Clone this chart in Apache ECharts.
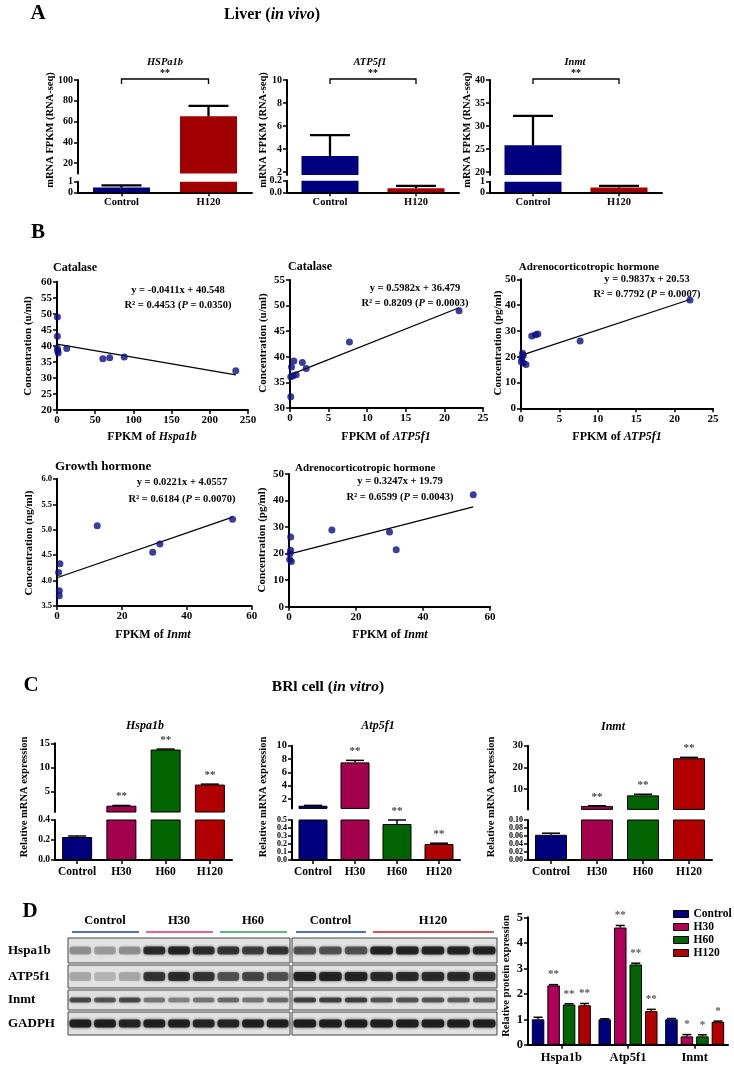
<!DOCTYPE html>
<html>
<head>
<meta charset="utf-8">
<script src="https://cdn.jsdelivr.net/npm/echarts@6.0.0/dist/echarts.min.js"></script>
<style>html,body{margin:0;padding:0;background:#fff;}#chart{width:734px;height:1068px;}</style>
</head>
<body>
<div id="chart"></div>
<script>
// ================= DATA =================
// Panel A : liver RNA-seq (mean, error)
const aCategories = ['Control', 'H120'];
const aHspa1bMean = [0.45, 65];
const aHspa1bErr = [0.2, 10];
const aAtp5f1Mean = [3.4, 0.07];
const aAtp5f1Err = [1.8, 0.04];
const aInmtMean = [25.8, 0.45];
const aInmtErr = [6.4, 0.15];
const aHspa1bUpperTicks = [20, 40, 60, 80, 100];
const aHspa1bLowerTicks = [0, 1];
const aAtp5f1UpperTicks = [2, 4, 6, 8, 10];
const aAtp5f1LowerTicks = [0, 0.2];
const aInmtUpperTicks = [20, 25, 30, 35, 40];
const aInmtLowerTicks = [0, 1];

// Panel B : correlations [FPKM, concentration]
const b1Points = [[0.5,49],[0.5,43],[0.5,39.2],[1,38.5],[1.5,37.8],[12.7,39.2],[60,36],[69,36.3],[88,36.5],[234,32.2]];
const b1Fit = [[0,40.55],[234,30.93]];
const b1Eq = ['y = -0.0411x + 40.548', 'R² = 0.4453 (P = 0.0350)'];
const b2Points = [[0.1,32.2],[0.1,36.1],[0.4,36.3],[0.2,38],[0.5,39.2],[0.8,36.5],[1.6,38.9],[2.1,37.7],[7.7,42.9],[21.9,49]];
const b2Fit = [[0,36.48],[21.9,49.58]];
const b2Eq = ['y = 0.5982x + 36.479', 'R² = 0.8209 (P = 0.0003)'];
const b3Points = [[22,42],[7.7,26.1],[1.4,28],[1.9,28.5],[2.2,28.8],[0.2,21.3],[0.3,20.5],[0.05,18],[0.3,17.6],[0.65,17],[0.1,19.5]];
const b3Fit = [[0,20.53],[22,42.17]];
const b3Eq = ['y = 0.9837x + 20.53', 'R² = 0.7792 (P = 0.0007)'];
const b4Points = [[0.9,4.33],[0.5,4.16],[0.7,3.8],[0.7,3.7],[12.4,5.08],[29.5,4.56],[31.7,4.72],[54.1,5.21]];
const b4Fit = [[0,4.056],[54.1,5.25]];
const b4Eq = ['y = 0.0221x + 4.0557', 'R² = 0.6184 (P = 0.0070)'];
const b5Points = [[55,42.2],[12.8,28.9],[30,28.1],[32,21.5],[0.5,26.3],[0.5,21.3],[0.3,20],[0.2,17.8],[0.7,17]];
const b5Fit = [[0,19.79],[55,37.65]];
const b5Eq = ['y = 0.3247x + 19.79', 'R² = 0.6599 (P = 0.0043)'];

// Panel C : BRL cell qPCR
const cCategories = ['Control', 'H30', 'H60', 'H120'];
const cHspa1bMean = [0.23, 2.0, 13.7, 6.4];
const cHspa1bErr = [0.01, 0.05, 0.1, 0.1];
const cAtp5f1Mean = [1.0, 7.5, 0.45, 0.2];
const cAtp5f1Err = [0.05, 0.3, 0.05, 0.01];
const cInmtMean = [0.063, 2.1, 7.0, 24.2];
const cInmtErr = [0.004, 0.1, 0.5, 0.4];
const cStars = ['', '**', '**', '**'];
const cHspa1bUpperTicks = [5, 10, 15];
const cHspa1bLowerTicks = [0, 0.2, 0.4];
const cAtp5f1UpperTicks = [2, 4, 6, 8, 10];
const cAtp5f1LowerTicks = [0, 0.1, 0.2, 0.3, 0.4, 0.5];
const cInmtUpperTicks = [10, 20, 30];
const cInmtLowerTicks = [0, 0.02, 0.04, 0.06, 0.08, 0.1];

// Panel D : protein expression
const dCategories = ['Hspa1b', 'Atp5f1', 'Inmt'];
const dGroups = ['Control', 'H30', 'H60', 'H120'];
const dControl = [1.0, 1.0, 1.0];
const dControlErr = [0.08, 0.02, 0.03];
const dH30 = [2.33, 4.6, 0.33];
const dH30Err = [0.03, 0.08, 0.07];
const dH60 = [1.58, 3.15, 0.33];
const dH60Err = [0.03, 0.05, 0.06];
const dH120 = [1.55, 1.32, 0.9];
const dH120Err = [0.07, 0.07, 0.03];
const dControlStars = ['', '', ''];
const dH30Stars = ['**', '**', '*'];
const dH60Stars = ['**', '**', '*'];
const dH120Stars = ['**', '**', '*'];

// Western blot band darkness (0..1), per lane
const blotRowNames = ['Hspa1b', 'ATP5f1', 'Inmt', 'GADPH'];
const blotLeftHspa1b = [0.35,0.3,0.35,0.8,0.85,0.8,0.75,0.7,0.75];
const blotLeftAtp5f1 = [0.25,0.2,0.25,0.75,0.8,0.75,0.6,0.65,0.6];
const blotLeftInmt = [0.65,0.6,0.65,0.45,0.4,0.45,0.5,0.45,0.5];
const blotLeftGadph = [0.9,0.9,0.85,0.9,0.9,0.85,0.85,0.9,0.9];
const blotRightHspa1b = [0.6,0.6,0.6,0.85,0.85,0.85,0.85,0.85];
const blotRightAtp5f1 = [0.85,0.85,0.85,0.8,0.8,0.8,0.8,0.8];
const blotRightInmt = [0.7,0.7,0.7,0.6,0.6,0.6,0.55,0.55];
const blotRightGadph = [0.9,0.9,0.9,0.9,0.9,0.9,0.9,0.9];
const blotLeftGroups = ['Control', 'H30', 'H60'];
const blotRightGroups = ['Control', 'H120'];

// ================= BUILD =================
const FONT = 'Liberation Serif';
const NAVY = '#00007f';
const grids = [], xAxes = [], yAxes = [], series = [], graphics = [];

function T(x, y, text, o) {
  o = o || {};
  const st = {
    text: text, fill: o.color || '#000', fontFamily: FONT, fontWeight: 'bold',
    fontSize: o.fs || 11, fontStyle: o.it ? 'italic' : 'normal',
    align: o.align || 'center', verticalAlign: 'middle'
  };
  if (o.rich) st.rich = o.rich;
  graphics.push({ type: 'text', x: x, y: y, rotation: o.rot || 0, silent: true, z: 100, style: st });
}
function richFor(fs) {
  return {
    n: { fontFamily: FONT, fontWeight: 'bold', fontSize: fs, fill: '#000' },
    i: { fontFamily: FONT, fontWeight: 'bold', fontStyle: 'italic', fontSize: fs, fill: '#000' }
  };
}

function makeErr(capW, lw, stars, gap, fs, scol, off) {
  return function (params, api) {
    const idx = api.value(3);
    const v = api.value(1), e = api.value(2);
    const cs = params.coordSys;
    const pb = api.coord([api.value(0), v]);
    const pt = api.coord([api.value(0), v + e]);
    const x = pb[0] + (off || 0);
    if (pt[1] < cs.y - 0.6 || pt[1] > cs.y + cs.height + 0.6) return null;
    const yb = Math.min(pb[1], cs.y + cs.height);
    const ch = [
      { type: 'line', shape: { x1: x, y1: yb, x2: x, y2: pt[1] }, style: { stroke: '#000', lineWidth: lw } },
      { type: 'line', shape: { x1: x - capW / 2, y1: pt[1], x2: x + capW / 2, y2: pt[1] }, style: { stroke: '#000', lineWidth: lw } }
    ];
    const s = stars && stars[idx];
    if (s) ch.push({ type: 'text', x: x, y: pt[1] - gap, style: { text: s, fill: scol, fontFamily: FONT, fontWeight: 'bold', fontSize: fs, align: 'center', verticalAlign: 'middle' } });
    return { type: 'group', children: ch };
  };
}

function broken(c) {
  [c.up, c.lo].forEach(function (s, k) {
    const gi = grids.length;
    const isLow = k === 1;
    grids.push({ left: c.x0, top: s.top, width: c.x1 - c.x0, height: s.bot - s.top });
    xAxes.push({
      gridIndex: gi, type: 'category', data: c.cats, boundaryGap: true, show: isLow,
      axisLine: { show: true, onZero: false, lineStyle: { color: '#000', width: c.axw } },
      axisTick: { show: true, alignWithLabel: true, length: 4, lineStyle: { color: '#000', width: 1.5 } },
      axisLabel: { interval: 0, color: '#000', fontFamily: FONT, fontWeight: 'bold', fontSize: c.xfs, margin: c.xm }
    });
    const fs = s.fs || c.yfs;
    yAxes.push({
      gridIndex: gi, type: 'value', min: s.min, max: s.max, splitLine: { show: false },
      axisLine: { show: true, onZero: false, lineStyle: { color: '#000', width: c.axw } },
      axisTick: { show: true, length: 4, customValues: s.ticks, lineStyle: { color: '#000', width: 1.5 } },
      axisLabel: { customValues: s.ticks, showMinLabel: true, showMaxLabel: true, hideOverlap: false,
        lineHeight: s.lh || Math.round(fs * 1.2),
        formatter: function (v) { return Number(v).toFixed(s.dec); }, color: '#000', fontFamily: FONT, fontWeight: 'bold', fontSize: fs, margin: 5 }
    });
    series.push({
      type: 'bar', xAxisIndex: gi, yAxisIndex: gi, barWidth: c.bw, clip: true, silent: true,
      data: c.vals.map(function (v, i) { return { value: v, itemStyle: { color: c.colors[i] } }; }),
      itemStyle: { borderColor: '#000', borderWidth: c.bbw }
    });
    series.push({
      type: 'custom', xAxisIndex: gi, yAxisIndex: gi, silent: true, z: 5,
      data: c.vals.map(function (v, i) { return [i, v, c.errs[i], i]; }),
      renderItem: makeErr(c.capW, c.elw, c.stars, c.starGap, c.starFs, c.starColor, 0)
    });
    if (!isLow && c.bracket) {
      series.push({
        type: 'custom', xAxisIndex: gi, yAxisIndex: gi, silent: true, z: 5, data: [[0, 1]],
        renderItem: function (params, api) {
          const cs = params.coordSys;
          const x0 = api.coord([0, s.max])[0], x1 = api.coord([1, s.max])[0];
          const y = cs.y - 1;
          return { type: 'group', children: [
            { type: 'polyline', shape: { points: [[x0, y + 5], [x0, y], [x1, y], [x1, y + 5]] }, style: { stroke: '#000', lineWidth: 1.3, fill: null } },
            { type: 'text', x: (x0 + x1) / 2, y: y - 6, style: { text: '**', fill: '#000', fontFamily: FONT, fontWeight: 'bold', fontSize: 10, align: 'center', verticalAlign: 'middle' } }
          ] };
        }
      });
    }
  });
}

function scatterPanel(c) {
  const gi = grids.length;
  grids.push({ left: c.x0, top: c.y0, width: c.x1 - c.x0, height: c.y1 - c.y0 });
  const lab = { color: '#000', fontFamily: FONT, fontWeight: 'bold', fontSize: 11, margin: 5 };
  xAxes.push({
    gridIndex: gi, type: 'value', min: c.xr[0], max: c.xr[1], interval: c.xr[2], splitLine: { show: false },
    axisLine: { show: true, onZero: false, lineStyle: { color: '#000', width: 2 } },
    axisTick: { show: true, length: 4, lineStyle: { color: '#000', width: 1.5 } },
    axisLabel: lab
  });
  yAxes.push({
    gridIndex: gi, type: 'value', min: c.yr[0], max: c.yr[1], interval: c.yr[2], splitLine: { show: false },
    axisLine: { show: true, onZero: false, lineStyle: { color: '#000', width: 2 } },
    axisTick: { show: true, length: 4, lineStyle: { color: '#000', width: 1.5 } },
    axisLabel: Object.assign({}, lab, { fontSize: c.yfs || 11, formatter: function (v) { return Number(v).toFixed(c.ydec || 0); } })
  });
  series.push({ type: 'line', xAxisIndex: gi, yAxisIndex: gi, data: c.fit, symbol: 'none', silent: true, z: 2, lineStyle: { color: '#000', width: 1.3 } });
  series.push({ type: 'scatter', xAxisIndex: gi, yAxisIndex: gi, data: c.pts, symbolSize: 7, silent: true, z: 3, itemStyle: { color: '#0c0c82' } });
  T(c.title[1], c.title[2], c.title[0], { fs: c.title[3], align: c.title[4] });
  const eqRich = richFor(10.5);
  T(c.eqx, c.eqy1, b_fmt(c.eq[0]), { fs: 10.5, rich: eqRich });
  T(c.eqx, c.eqy2, b_fmt(c.eq[1]), { fs: 10.5, rich: eqRich });
  T(c.yname[1], c.yname[2], c.yname[0], { fs: 11, rot: Math.PI / 2 });
  T(c.xname[1], c.xname[2], '{n|FPKM of }{i|' + c.xname[0] + '}', { fs: 12, rich: richFor(12) });
}
function b_fmt(s) { return '{n|' + s.replace('P =', '}{i|P}{n| =') + '}'; }

// ---------- Panel A ----------
T(38, 14, 'A', { fs: 21 });
T(272, 15, '{n|Liver (}{i|in vivo}{n|)}', { fs: 16, rich: richFor(16) });
const aCol = [NAVY, '#a00000'];
const aCommon = { cats: aCategories, colors: aCol, bw: 57, capW: 40, elw: 2.3, axw: 2, xfs: 10.5, xm: 4, yfs: 10, bbw: 0, bracket: true };
broken(Object.assign({}, aCommon, { x0: 78, x1: 252, vals: aHspa1bMean, errs: aHspa1bErr,
  up: { top: 80, bot: 173.4, min: 10, max: 100, ticks: aHspa1bUpperTicks, dec: 0 },
  lo: { top: 181.7, bot: 192.3, min: 0, max: 1, ticks: aHspa1bLowerTicks, dec: 0, lh: 9 } }));
broken(Object.assign({}, aCommon, { x0: 287, x1: 459, vals: aAtp5f1Mean, errs: aAtp5f1Err,
  up: { top: 80, bot: 175, min: 1.74, max: 10, ticks: aAtp5f1UpperTicks, dec: 0 },
  lo: { top: 180.7, bot: 192.3, min: 0, max: 0.2, ticks: aAtp5f1LowerTicks, dec: 1, lh: 9 } }));
broken(Object.assign({}, aCommon, { x0: 490, x1: 662, vals: aInmtMean, errs: aInmtErr,
  up: { top: 80, bot: 175, min: 19.35, max: 40, ticks: aInmtUpperTicks, dec: 0 },
  lo: { top: 181.7, bot: 192.3, min: 0, max: 1, ticks: aInmtLowerTicks, dec: 0, lh: 9 } }));
T(165, 62, 'HSPa1b', { fs: 10.5, it: true });
T(370, 62, 'ATP5f1', { fs: 10.5, it: true });
T(575, 62, 'Inmt', { fs: 10.5, it: true });
T(50, 130, 'mRNA FPKM (RNA-seq)', { fs: 10.5, rot: Math.PI / 2 });
T(263, 130, 'mRNA FPKM (RNA-seq)', { fs: 10.5, rot: Math.PI / 2 });
T(467, 130, 'mRNA FPKM (RNA-seq)', { fs: 10.5, rot: Math.PI / 2 });

// ---------- Panel B ----------
T(38, 233, 'B', { fs: 21 });
scatterPanel({ x0: 57, x1: 248, y0: 281.7, y1: 410, xr: [0, 250, 50], yr: [20, 60, 5], pts: b1Points, fit: b1Fit, eq: b1Eq,
  eqx: 178, eqy1: 290.7, eqy2: 305.7, title: ['Catalase', 53, 268, 12, 'left'],
  yname: ['Concentration (u/ml)', 28, 346], xname: ['Hspa1b', 152, 437] });
scatterPanel({ x0: 290, x1: 483, y0: 280, y1: 408, xr: [0, 25, 5], yr: [30, 55, 5], pts: b2Points, fit: b2Fit, eq: b2Eq,
  eqx: 415, eqy1: 288, eqy2: 303.3, title: ['Catalase', 288, 267, 12, 'left'],
  yname: ['Concentration (u/ml)', 263, 343], xname: ['ATP5f1', 386, 437] });
scatterPanel({ x0: 521, x1: 713, y0: 279.3, y1: 408.3, xr: [0, 25, 5], yr: [0, 50, 10], pts: b3Points, fit: b3Fit, eq: b3Eq,
  eqx: 647, eqy1: 279.3, eqy2: 294, title: ['Adrenocorticotropic hormone', 589, 266.7, 11, 'center'],
  yname: ['Concentration (pg/ml)', 498, 343], xname: ['ATP5f1', 617, 437] });
scatterPanel({ x0: 57, x1: 251.7, y0: 479, y1: 606, xr: [0, 60, 20], yr: [3.5, 6, 0.5], ydec: 1, yfs: 8.5, pts: b4Points, fit: b4Fit, eq: b4Eq,
  eqx: 182, eqy1: 482, eqy2: 499, title: ['Growth hormone', 55, 467, 13, 'left'],
  yname: ['Concentration (ng/ml)', 29, 543], xname: ['Inmt', 153, 635] });
scatterPanel({ x0: 289, x1: 490, y0: 474, y1: 606.7, xr: [0, 60, 20], yr: [0, 50, 10], pts: b5Points, fit: b5Fit, eq: b5Eq,
  eqx: 400, eqy1: 481.7, eqy2: 497.7, title: ['Adrenocorticotropic hormone', 295, 468.3, 11, 'left'],
  yname: ['Concentration (pg/ml)', 262, 540], xname: ['Inmt', 390, 635] });

// ---------- Panel C ----------
T(31, 686, 'C', { fs: 21 });
T(328, 687, '{n|BRl cell (}{i|in vitro}{n|)}', { fs: 15.5, rich: richFor(15.5) });
const cCol = [NAVY, '#a3004d', '#006400', '#b00000'];
const cCommon = { cats: cCategories, colors: cCol, capW: 18, elw: 1.5, axw: 2, xfs: 11.5, xm: 6, yfs: 10.5, bbw: 1,
  stars: cStars, starGap: 9, starFs: 11, starColor: '#444' };
broken(Object.assign({}, cCommon, { x0: 55, x1: 232, bw: 30, vals: cHspa1bMean, errs: cHspa1bErr,
  up: { top: 743.3, bot: 812, min: 0.69, max: 15, ticks: cHspa1bUpperTicks, dec: 0 },
  lo: { top: 820, bot: 860, min: 0, max: 0.4, ticks: cHspa1bLowerTicks, dec: 1, fs: 9.5 } }));
broken(Object.assign({}, cCommon, { x0: 292, x1: 460, bw: 29, vals: cAtp5f1Mean, errs: cAtp5f1Err,
  up: { top: 745.7, bot: 808.4, min: 0.6, max: 10, ticks: cAtp5f1UpperTicks, dec: 0 },
  lo: { top: 820, bot: 860, min: 0, max: 0.5, ticks: cAtp5f1LowerTicks, dec: 1, fs: 8, lh: 6 } }));
broken(Object.assign({}, cCommon, { x0: 528, x1: 712, bw: 32, vals: cInmtMean, errs: cInmtErr,
  up: { top: 745.7, bot: 809.4, min: 0.5, max: 30, ticks: cInmtUpperTicks, dec: 0 },
  lo: { top: 820, bot: 860, min: 0, max: 0.1, ticks: cInmtLowerTicks, dec: 2, fs: 8, lh: 6 } }));
T(145, 726, 'Hspa1b', { fs: 12, it: true });
T(378, 726, 'Atp5f1', { fs: 12, it: true });
T(613, 727, 'Inmt', { fs: 12, it: true });
T(24, 797, 'Relative mRNA expression', { fs: 10.5, rot: Math.PI / 2 });
T(263, 797, 'Relative mRNA expression', { fs: 10.5, rot: Math.PI / 2 });
T(491, 797, 'Relative mRNA expression', { fs: 10.5, rot: Math.PI / 2 });

// ---------- Panel D (bar chart) ----------
T(30, 912, 'D', { fs: 21 });
const giD = grids.length;
grids.push({ left: 528, top: 917.3, width: 200, height: 127.5 });
xAxes.push({
  gridIndex: giD, type: 'category', data: dCategories,
  axisLine: { show: true, onZero: false, lineStyle: { color: '#000', width: 2 } },
  axisTick: { show: true, alignWithLabel: true, length: 4, lineStyle: { color: '#000', width: 1.5 } },
  axisLabel: { interval: 0, color: '#000', fontFamily: FONT, fontWeight: 'bold', fontSize: 12.5, margin: 6 }
});
yAxes.push({
  gridIndex: giD, type: 'value', min: 0, max: 5, interval: 1, splitLine: { show: false },
  axisLine: { show: true, onZero: false, lineStyle: { color: '#000', width: 2 } },
  axisTick: { show: true, length: 4, lineStyle: { color: '#000', width: 1.5 } },
  axisLabel: { color: '#000', fontFamily: FONT, fontWeight: 'bold', fontSize: 12.5, margin: 5 }
});
const dSets = [
  [dControl, dControlErr, dControlStars, NAVY],
  [dH30, dH30Err, dH30Stars, '#b0005a'],
  [dH60, dH60Err, dH60Stars, '#006400'],
  [dH120, dH120Err, dH120Stars, '#b00000']
];
dSets.forEach(function (s, k) {
  series.push({ type: 'bar', name: dGroups[k], xAxisIndex: giD, yAxisIndex: giD, data: s[0], barWidth: 12.5, barGap: '24%', barCategoryGap: '12%', silent: true,
    itemStyle: { color: s[3], borderColor: '#000', borderWidth: 1 } });
});
dSets.forEach(function (s, k) {
  series.push({ type: 'custom', name: 'err' + k, xAxisIndex: giD, yAxisIndex: giD, silent: true, z: 5,
    data: s[0].map(function (v, i) { return [i, v, s[1][i], i]; }),
    renderItem: makeErr(9, 1.5, s[2], 10, 11, '#555', (k - 1.5) * 15.5) });
});
T(506, 976, 'Relative protein expression', { fs: 10.5, rot: Math.PI / 2 });

// ---------- Panel D (western blot drawing) ----------
const rowsY = [[938, 963], [965, 988], [990, 1010], [1012, 1035]];
const bandH = [8, 9, 5, 8];
const leftBands = [blotLeftHspa1b, blotLeftAtp5f1, blotLeftInmt, blotLeftGadph];
const rightBands = [blotRightHspa1b, blotRightAtp5f1, blotRightInmt, blotRightGadph];
function drawBlot(x0, x1, bands, groups, groupLanes, ulColors) {
  const n = bands[0].length, lw = (x1 - x0) / n;
  rowsY.forEach(function (r, ri) {
    graphics.push({ type: 'rect', silent: true, z: 50, shape: { x: x0, y: r[0], width: x1 - x0, height: r[1] - r[0] },
      style: { fill: '#e2e2e2', stroke: '#444', lineWidth: 1 } });
    bands[ri].forEach(function (a, li) {
      const cx = x0 + lw * (li + 0.5), cy = (r[0] + r[1]) / 2;
      const c = 'rgba(25,25,25,' + a + ')';
      graphics.push({ type: 'rect', silent: true, z: 51, shape: { x: cx - lw * 0.44, y: cy - bandH[ri] / 2, width: lw * 0.88, height: bandH[ri], r: 3 },
        style: { fill: c, shadowBlur: 3, shadowColor: c } });
    });
  });
  let lane = 0;
  groups.forEach(function (g, gi) {
    const gx0 = x0 + lane * lw, gx1 = x0 + (lane + groupLanes[gi]) * lw;
    T((gx0 + gx1) / 2, 921, g, { fs: 12.5 });
    graphics.push({ type: 'line', silent: true, z: 52, shape: { x1: gx0 + 4, y1: 932, x2: gx1 - 3, y2: 932 }, style: { stroke: ulColors[gi], lineWidth: 1.6 } });
    lane += groupLanes[gi];
  });
}
drawBlot(68, 290, leftBands, blotLeftGroups, [3, 3, 3], ['#1f3b9c', '#d4327a', '#2aa05a']);
drawBlot(292, 497, rightBands, blotRightGroups, [3, 5], ['#1f3b9c', '#c0202a']);
blotRowNames.forEach(function (nm, i) { T(8, (rowsY[i][0] + rowsY[i][1]) / 2, nm, { fs: 13, align: 'left' }); });

// ================= CHART =================
const chart = echarts.init(document.getElementById('chart'), null, { renderer: 'canvas' });
chart.setOption({
  animation: false,
  backgroundColor: '#fff',
  grid: grids, xAxis: xAxes, yAxis: yAxes, series: series,
  legend: {
    data: dGroups, orient: 'vertical', left: 668, top: 903, itemWidth: 15, itemHeight: 7, itemGap: 1, icon: 'rect',
    itemStyle: { borderColor: '#000', borderWidth: 1 },
    textStyle: { color: '#000', fontFamily: FONT, fontWeight: 'bold', fontSize: 11.5 }
  },
  graphic: graphics
});
</script>
</body>
</html>
